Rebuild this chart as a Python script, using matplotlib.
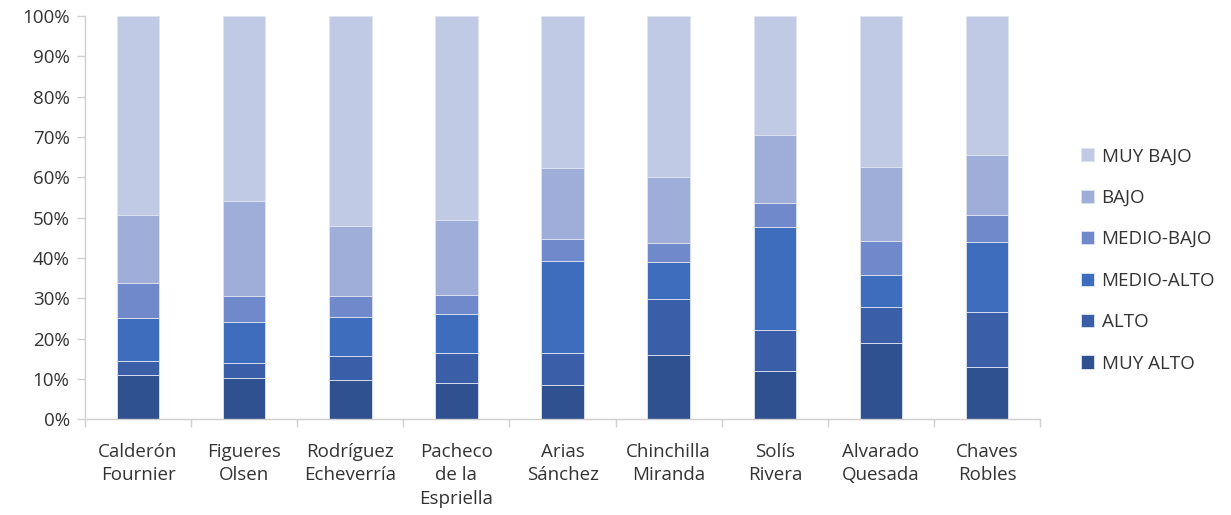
import matplotlib.pyplot as plt
import numpy as np

plt.rcParams['font.family'] = ['Open Sans', 'DejaVu Sans']

# Data: presidents (x categories) and share of each level (%)
presidentes = ['Calderón\nFournier', 'Figueres\nOlsen', 'Rodríguez\nEcheverría',
               'Pacheco\nde la\nEspriella', 'Arias\nSánchez', 'Chinchilla\nMiranda',
               'Solís\nRivera', 'Alvarado\nQuesada', 'Chaves\nRobles']

muy_alto   = [11.0, 10.2, 9.7, 9.0, 8.4, 16.0, 12.0, 19.0, 13.0]
alto       = [3.5, 3.7, 6.0, 7.3, 8.1, 13.7, 10.1, 8.8, 13.6]
medio_alto = [10.5, 10.1, 9.7, 9.8, 22.8, 9.3, 25.6, 7.9, 17.3]
medio_bajo = [8.8, 6.6, 5.2, 4.7, 5.4, 4.6, 5.8, 8.5, 6.8]
bajo       = [16.9, 23.4, 17.4, 18.6, 17.5, 16.5, 17.0, 18.3, 14.8]
muy_bajo   = [49.3, 46.0, 52.0, 50.6, 37.8, 39.9, 29.5, 37.5, 34.5]

series = [
    ('MUY ALTO', muy_alto, '#2F5190'),
    ('ALTO', alto, '#3A5FA8'),
    ('MEDIO-ALTO', medio_alto, '#3E6DBD'),
    ('MEDIO-BAJO', medio_bajo, '#6F89CB'),
    ('BAJO', bajo, '#9FAED8'),
    ('MUY BAJO', muy_bajo, '#C1CAE4'),
]

txt = '#333333'
fs = 13.5

fig = plt.figure(figsize=(12.31, 5.15), dpi=100)
ax = fig.add_axes([0.069, 0.186, 0.776, 0.783])

x = np.arange(len(presidentes))
bottom = np.zeros(len(presidentes))
handles = []
for name, vals, color in series:
    vals = np.array(vals)
    b = ax.bar(x, vals, width=0.4, bottom=bottom, color=color,
               edgecolor='#dfe4f2', linewidth=0.6, label=name)
    handles.append(b)
    bottom += vals

ax.set_xlim(-0.5, len(presidentes) - 0.5)
ax.set_ylim(0, 100)
ax.set_yticks(range(0, 101, 10))
ax.set_yticklabels([f'{v}%' for v in range(0, 101, 10)], fontsize=fs, color=txt)

# category labels at centers, tick marks between categories
ax.set_xticks(x)
ax.set_xticklabels(presidentes, fontsize=fs, color=txt, linespacing=1.4)
ax.tick_params(axis='x', which='major', length=0, pad=17)
ax.set_xticks(np.arange(-0.5, len(presidentes)), minor=True)
ax.tick_params(axis='x', which='minor', length=6, color='#d0d0d0', width=1)
ax.tick_params(axis='y', length=6, color='#d0d0d0', width=1, pad=5)

for s in ['top', 'right']:
    ax.spines[s].set_visible(False)
for s in ['left', 'bottom']:
    ax.spines[s].set_color('#d0d0d0')
    ax.spines[s].set_linewidth(1)

leg = ax.legend(handles[::-1], [h.get_label() for h in handles[::-1]],
                loc='center left', bbox_to_anchor=(1.025, 0.395), frameon=False,
                fontsize=fs, labelspacing=1.25, handlelength=0.7,
                handleheight=0.7, handletextpad=0.4)
for t in leg.get_texts():
    t.set_color(txt)

plt.savefig('out.png', dpi=100)
